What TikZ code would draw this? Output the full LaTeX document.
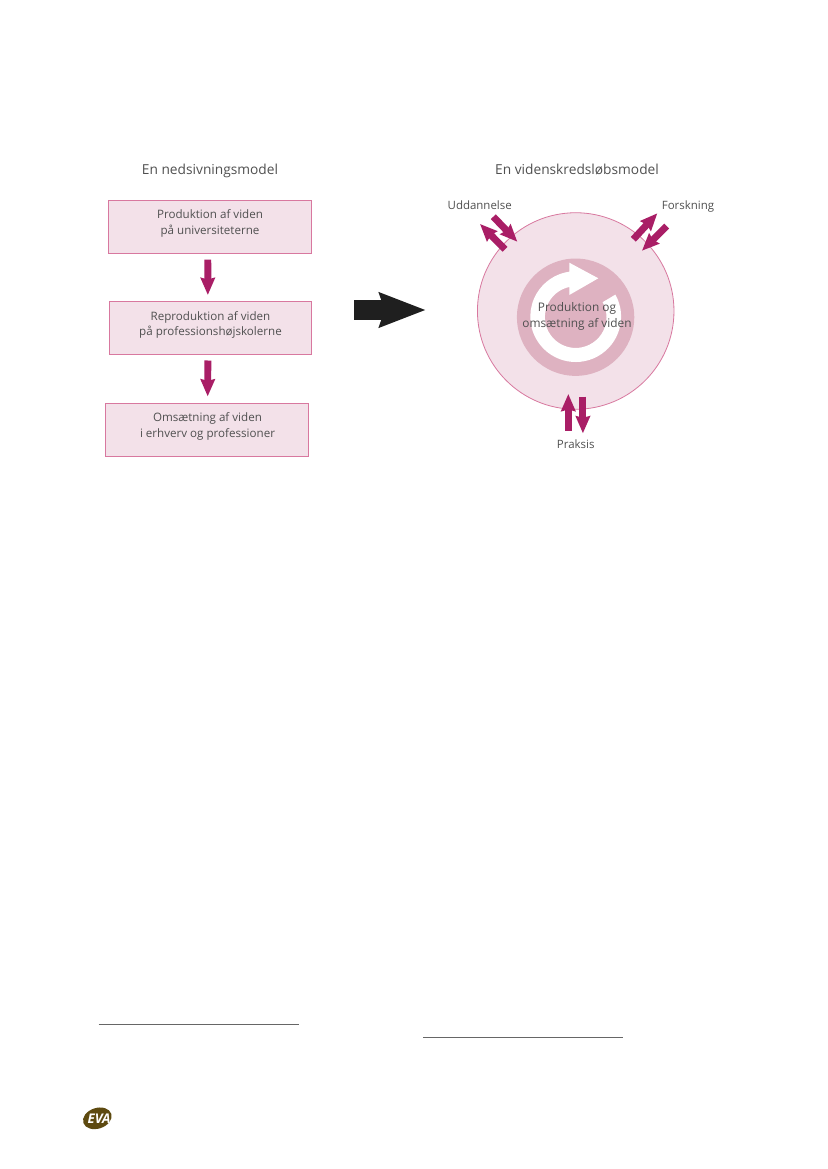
\documentclass[tikz,border=0pt]{standalone}
\usepackage{fontspec}
\setmainfont{Open Sans}
\usetikzlibrary{arrows.meta,shapes.geometric}
\definecolor{pinkfill}{HTML}{F3E1E9}
\definecolor{pinkedge}{HTML}{D8789F}
\definecolor{ringcol}{HTML}{DEB2C1}
\definecolor{magent}{HTML}{A91E66}
\definecolor{txt}{HTML}{505050}
\definecolor{evabrown}{HTML}{5E4A10}
\tikzset{
  x=0.75pt,y=-0.75pt,
  box/.style={draw=pinkedge,fill=pinkfill,line width=0.75pt,minimum width=152.2pt,minimum height=39.8pt,inner sep=0pt},
  boxtext/.style={text=txt,font=\fontsize{8.7}{11.6}\selectfont,align=center,inner sep=0pt},
  centretext/.style={text=txt,font=\fontsize{8.9}{11.9}\selectfont,align=center,inner sep=0pt},
  headtext/.style={text=txt,font=\fontsize{10.3}{12}\selectfont,inner sep=0pt,anchor=base},
  labeltext/.style={text=txt,font=\fontsize{8.6}{11.6}\selectfont,inner sep=0pt,anchor=base},
  flow/.style={draw=magent,line width=5.2pt,-{Stealth[length=12.8pt,width=10.6pt,inset=1.2pt,sep=0pt]}},
  footrule/.style={draw=black!60,line width=0.55pt},
}
\begin{document}
\begin{tikzpicture}
\useasboundingbox[fill=white] (0,0) rectangle (827,1169);
% titles
\node[headtext] (t1) at (210,175) {En nedsivningsmodel};
\node[headtext] (t2) at (577,175) {En videnskredsløbsmodel};
% boxes
\node[box] (b1) at (209.9,226.7) {};
\node[box] (b2) at (210.5,328.4) {};
\node[box] (b3) at (207.4,429.8) {};
\node[boxtext] (b1t) at (210,223.3) {Produktion af viden\\på universiteterne};
\node[boxtext] (b2t) at (210.5,324.8) {Reproduktion af viden\\på professionshøjskolerne};
\node[boxtext] (b3t) at (207.5,426.3) {Omsætning af viden\\i erhverv og professioner};
\draw[flow,shorten <=4.5pt,shorten >=4.8pt] ([xshift=-1.6pt]b1.south) -- ([xshift=-2pt]b2.north);
\draw[flow,shorten <=3.8pt,shorten >=4.8pt] ([xshift=-2pt]b2.south) -- ([xshift=0.2pt]b3.north);
% big arrow
\coordinate (bs) at (354.3,310);
\coordinate (be) at (426,310);
\draw[draw=black!88,line width=15pt,-{Stealth[length=34.5pt,width=25pt,inset=3.6pt,sep=0pt]}] (bs) -- (be);
% circle
\node[circle,draw=pinkedge,fill=pinkfill,line width=0.6pt,minimum size=147.4pt,inner sep=0pt] (c) at (575.7,311) {};
\node[circle,fill=ringcol,minimum size=88pt,inner sep=0pt] (r) at (575.6,317.2) {};
% white spiral arrow (the y axis is flipped, so angles are negated)
\fill[white] (615.4,294.6) arc[start angle=-29,end angle=262,radius=45.4]
  -- (569.3,262.7) -- (598.3,278.3) -- (569.3,295)
  -- (569.3,287) arc[start angle=258,end angle=-29,radius=30.8] -- cycle;
% centre text
\node[centretext] (ct) at (577,316.2) {Produktion og\\omsætning af viden};
% labels
\node[labeltext] (lu) at (479.7,209.5) {Uddannelse};
\node[labeltext] (lf) at (688,209.5) {Forskning};
\node[labeltext] (lp) at (575.7,448) {Praksis};
% double arrows
\coordinate (u1s) at (493.3,216.7); \coordinate (u1e) at (517.3,241.7);
\coordinate (u2s) at (505,249.3);   \coordinate (u2e) at (480,224);
\coordinate (f1s) at (633.3,239.3); \coordinate (f1e) at (657.3,213.3);
\coordinate (f2s) at (666.7,226);   \coordinate (f2e) at (642,250.7);
\coordinate (p1s) at (568.3,430.7); \coordinate (p1e) at (568.3,394);
\coordinate (p2s) at (582.9,396.7); \coordinate (p2e) at (582.9,433.3);
\foreach \a/\b in {u1s/u1e,u2s/u2e,f1s/f1e,f2s/f2e,p1s/p1e,p2s/p2e}
  \draw[flow] (\a) -- (\b);
% footnote rules
\coordinate (fa) at (98.7,1024.6); \coordinate (fb) at (298.7,1024.6);
\coordinate (fc) at (423,1037.4);  \coordinate (fd) at (623,1037.4);
\draw[footrule] (fa) -- (fb);
\draw[footrule] (fc) -- (fd);
% logo
\node[ellipse,fill=evabrown,minimum width=22pt,minimum height=15.5pt,inner sep=0pt,rotate=18] (logo) at (97.3,1118.3) {};
\node[text=white,inner sep=0pt,font=\fontsize{10}{10}\selectfont\bfseries\itshape] (evat) at (99,1119) {EVA};
\end{tikzpicture}
\end{document}
